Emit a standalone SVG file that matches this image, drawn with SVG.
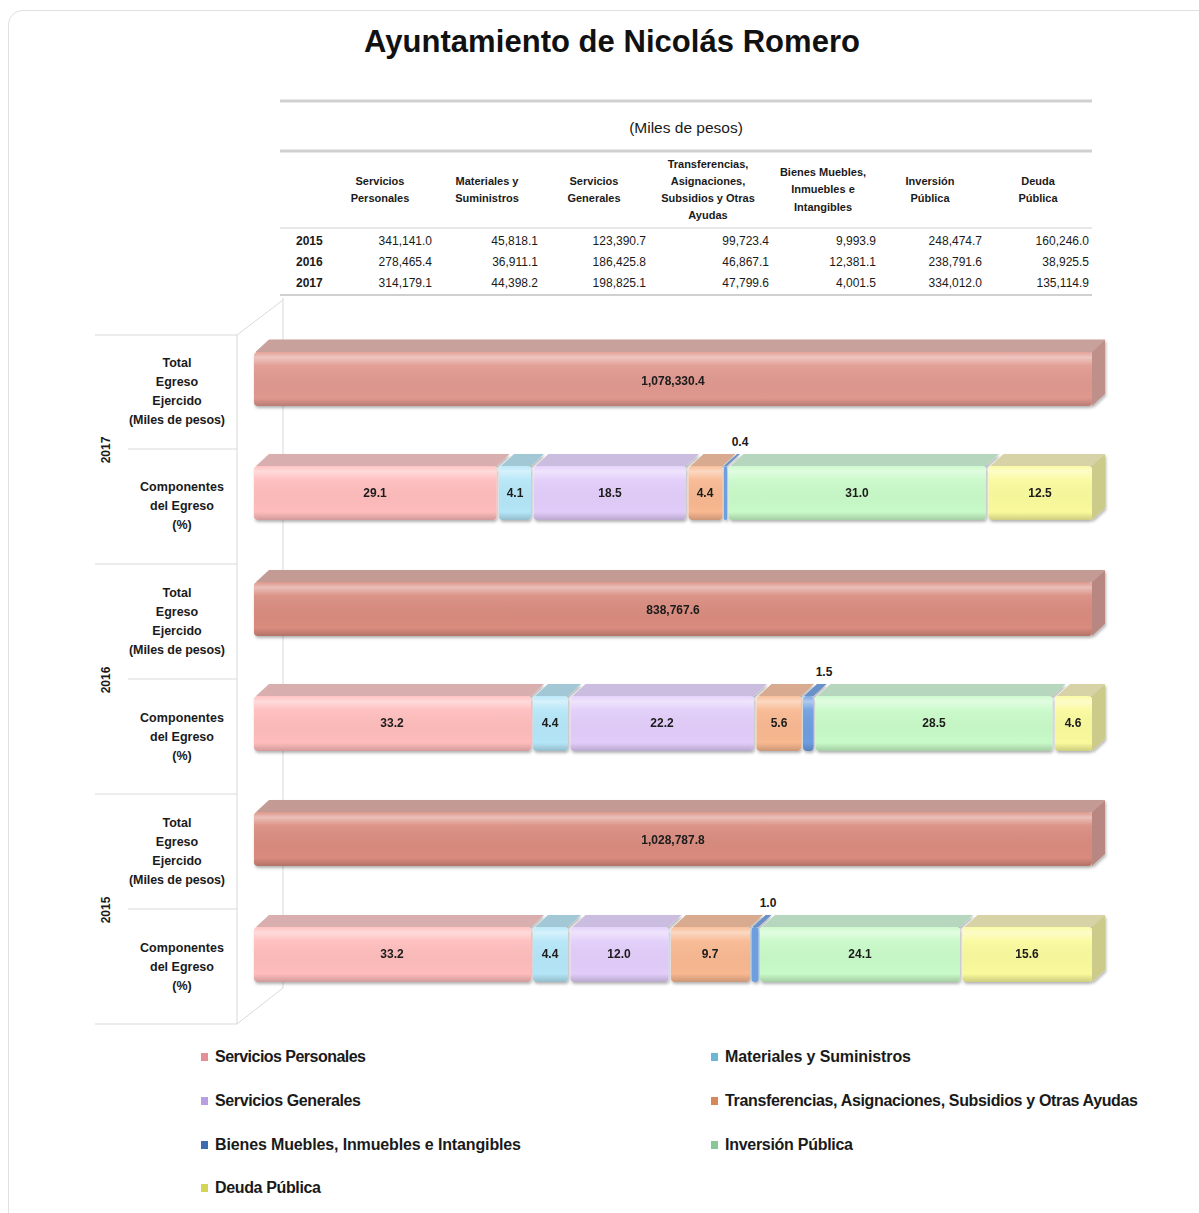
<svg xmlns="http://www.w3.org/2000/svg" width="1199" height="1213" viewBox="0 0 1199 1213">
<defs>
<linearGradient id="shine" x1="0" y1="0" x2="0" y2="1">
<stop offset="0" stop-color="#fff" stop-opacity="0.1"/>
<stop offset="0.1" stop-color="#fff" stop-opacity="0.45"/>
<stop offset="0.25" stop-color="#fff" stop-opacity="0.08"/>
<stop offset="0.85" stop-color="#000" stop-opacity="0"/>
<stop offset="1" stop-color="#000" stop-opacity="0.18"/>
</linearGradient>
<filter id="sh" x="-5%" y="-20%" width="110%" height="150%">
<feDropShadow dx="1" dy="2" stdDeviation="1.5" flood-color="#000" flood-opacity="0.3"/>
</filter>
</defs>
<style>
.t{font-family:"Liberation Sans",Arial,sans-serif;fill:#1a1a1a}
.title{font-size:31px;font-weight:bold;fill:#111}
.hd{font-size:11px;font-weight:bold;text-anchor:middle}
.dv{font-size:12px;text-anchor:end}
.yr{font-size:12px;font-weight:bold}
.lbl{font-size:12.5px;font-weight:bold;text-anchor:middle}
.bv{font-size:12px;font-weight:bold;text-anchor:middle}
.lg{font-size:16px;font-weight:bold}
.grid{stroke:#d9d9d9;fill:none}
.tl{stroke:#d0d0d0;fill:none}
.shn{fill:url(#shine)}
</style>
<rect x="8.5" y="10.5" width="1210" height="1220" rx="14" fill="#fff" stroke="#e0e0e0"/>
<text class="t title" x="612" y="52" text-anchor="middle" textLength="496">Ayuntamiento de Nicolás Romero</text>

<g id="table">
<line class="tl" x1="280" y1="101" x2="1092" y2="101" stroke-width="3"/>
<text class="t" x="686" y="133" text-anchor="middle" font-size="15.5">(Miles de pesos)</text>
<line class="tl" x1="280" y1="151" x2="1092" y2="151" stroke-width="3"/>
<g>
<text class="t hd" x="380" y="185">Servicios</text><text class="t hd" x="380" y="202">Personales</text>
<text class="t hd" x="487" y="185">Materiales y</text><text class="t hd" x="487" y="202">Suministros</text>
<text class="t hd" x="594" y="185">Servicios</text><text class="t hd" x="594" y="202">Generales</text>
<text class="t hd" x="708" y="168">Transferencias,</text><text class="t hd" x="708" y="185">Asignaciones,</text><text class="t hd" x="708" y="202">Subsidios y Otras</text><text class="t hd" x="708" y="219">Ayudas</text>
<text class="t hd" x="823" y="176">Bienes Muebles,</text><text class="t hd" x="823" y="193">Inmuebles e</text><text class="t hd" x="823" y="211">Intangibles</text>
<text class="t hd" x="930" y="185">Inversión</text><text class="t hd" x="930" y="202">Pública</text>
<text class="t hd" x="1038" y="185">Deuda</text><text class="t hd" x="1038" y="202">Pública</text>
</g>
<line class="tl" x1="280" y1="228" x2="1092" y2="228" stroke="#ececec"/>
<g>
<text class="t yr" x="296" y="245">2015</text>
<text class="t dv" x="432" y="245">341,141.0</text><text class="t dv" x="538" y="245">45,818.1</text><text class="t dv" x="646" y="245">123,390.7</text><text class="t dv" x="769" y="245">99,723.4</text><text class="t dv" x="876" y="245">9,993.9</text><text class="t dv" x="982" y="245">248,474.7</text><text class="t dv" x="1089" y="245">160,246.0</text>
<text class="t yr" x="296" y="266">2016</text>
<text class="t dv" x="432" y="266">278,465.4</text><text class="t dv" x="538" y="266">36,911.1</text><text class="t dv" x="646" y="266">186,425.8</text><text class="t dv" x="769" y="266">46,867.1</text><text class="t dv" x="876" y="266">12,381.1</text><text class="t dv" x="982" y="266">238,791.6</text><text class="t dv" x="1089" y="266">38,925.5</text>
<text class="t yr" x="296" y="287">2017</text>
<text class="t dv" x="432" y="287">314,179.1</text><text class="t dv" x="538" y="287">44,398.2</text><text class="t dv" x="646" y="287">198,825.1</text><text class="t dv" x="769" y="287">47,799.6</text><text class="t dv" x="876" y="287">4,001.5</text><text class="t dv" x="982" y="287">334,012.0</text><text class="t dv" x="1089" y="287">135,114.9</text>
</g>
<line class="tl" x1="280" y1="295" x2="1092" y2="295" stroke-width="2" stroke="#e0e0e0"/>
</g>

<g id="connectors">
<line class="grid" x1="283" y1="298" x2="283" y2="988"/>
<line class="grid" x1="237" y1="335" x2="283" y2="300"/>
<line class="grid" x1="237" y1="1024" x2="283" y2="988"/>
<line class="grid" x1="237" y1="335" x2="237" y2="1024"/>
<line class="grid" x1="95" y1="335" x2="237" y2="335"/>
<line class="grid" x1="128" y1="449" x2="237" y2="449"/>
<line class="grid" x1="95" y1="564" x2="237" y2="564"/>
<line class="grid" x1="128" y1="679" x2="237" y2="679"/>
<line class="grid" x1="95" y1="794" x2="237" y2="794"/>
<line class="grid" x1="128" y1="909" x2="237" y2="909"/>
<line class="grid" x1="95" y1="1024" x2="237" y2="1024"/>
</g>

<g id="axis-labels">
<text class="t yr" transform="translate(110,450) rotate(-90)" text-anchor="middle">2017</text>
<text class="t yr" transform="translate(110,680) rotate(-90)" text-anchor="middle">2016</text>
<text class="t yr" transform="translate(110,910) rotate(-90)" text-anchor="middle">2015</text>
<g>
<text class="t lbl" x="177" y="367">Total</text><text class="t lbl" x="177" y="386">Egreso</text><text class="t lbl" x="177" y="405">Ejercido</text><text class="t lbl" x="177" y="424" textLength="96">(Miles de pesos)</text>
<text class="t lbl" x="182" y="491" textLength="84">Componentes</text><text class="t lbl" x="182" y="510">del Egreso</text><text class="t lbl" x="182" y="529">(%)</text>
</g>
<g>
<text class="t lbl" x="177" y="597">Total</text><text class="t lbl" x="177" y="616">Egreso</text><text class="t lbl" x="177" y="635">Ejercido</text><text class="t lbl" x="177" y="654" textLength="96">(Miles de pesos)</text>
<text class="t lbl" x="182" y="722" textLength="84">Componentes</text><text class="t lbl" x="182" y="741">del Egreso</text><text class="t lbl" x="182" y="760">(%)</text>
</g>
<g>
<text class="t lbl" x="177" y="827">Total</text><text class="t lbl" x="177" y="846">Egreso</text><text class="t lbl" x="177" y="865">Ejercido</text><text class="t lbl" x="177" y="884" textLength="96">(Miles de pesos)</text>
<text class="t lbl" x="182" y="952" textLength="84">Componentes</text><text class="t lbl" x="182" y="971">del Egreso</text><text class="t lbl" x="182" y="990">(%)</text>
</g>
</g>

<!-- 2017 total -->
<g id="total-2017" filter="url(#sh)">
<polygon points="256,352 269,340 1105,340 1092,352" fill="#c9a19c" stroke="#c9a19c" stroke-linejoin="round"/>
<polygon points="1092,352 1105,340 1105,394 1092,406" fill="#bf8f8a"/>
<rect x="254" y="352" width="838" height="54" rx="4" fill="#e0988e"/>
<rect x="254" y="352" width="838" height="54" rx="4" class="shn"/>
<text class="t bv" x="673" y="385">1,078,330.4</text>
</g>

<g id="comp-2017" filter="url(#sh)">
<g id="c17-sp"><polygon points="256,466 269,454 509.5,454 496.5,466" fill="#d8aeae"/><rect x="254" y="466" width="242.5" height="54" rx="4" fill="#ffbcbc"/><rect x="254" y="466" width="242.5" height="54" rx="4" class="shn"/><text class="t bv" x="375" y="497">29.1</text></g>
<g id="c17-ms"><polygon points="501,466 514,454 544,454 531,466" fill="#a2c8d6"/><rect x="499" y="466" width="32" height="54" rx="4" fill="#b4e6f8"/><rect x="499" y="466" width="32" height="54" rx="4" class="shn"/><text class="t bv" x="515" y="497">4.1</text></g>
<g id="c17-sg"><polygon points="535.5,466 548.5,454 699,454 686,466" fill="#cbbddf"/><rect x="533.5" y="466" width="152.5" height="54" rx="4" fill="#e2cdfa"/><rect x="533.5" y="466" width="152.5" height="54" rx="4" class="shn"/><text class="t bv" x="610" y="497">18.5</text></g>
<g id="c17-tr"><polygon points="690.5,466 703.5,454 735.5,454 722.5,466" fill="#d8ab90"/><rect x="688.5" y="466" width="34" height="54" rx="4" fill="#f8b890"/><rect x="688.5" y="466" width="34" height="54" rx="4" class="shn"/><text class="t bv" x="705" y="497">4.4</text></g>
<g id="c17-bm"><polygon points="724,466 737,454 740,454 727,466" fill="#6a90c8"/><rect x="724" y="466" width="3" height="54" rx="1.5" fill="#6d9ee0"/></g>
<g id="c17-ip"><polygon points="730.5,466 743.5,454 999,454 986,466" fill="#b6d6be"/><rect x="728.5" y="466" width="257.5" height="54" rx="4" fill="#c8fac8"/><rect x="728.5" y="466" width="257.5" height="54" rx="4" class="shn"/><text class="t bv" x="857" y="497">31.0</text></g>
<g id="c17-dp"><polygon points="990.5,466 1003.5,454 1105,454 1092,466" fill="#d8d3a6"/><polygon points="1092,466 1105,454 1105,508 1092,520" fill="#cdcb8a"/><rect x="988.5" y="466" width="103.5" height="54" rx="4" fill="#fafa9c"/><rect x="988.5" y="466" width="103.5" height="54" rx="4" class="shn"/><text class="t bv" x="1040" y="497">12.5</text></g>
</g>
<text class="t bv" x="740" y="446">0.4</text>

<!-- 2016 total -->
<g id="total-2016" filter="url(#sh)">
<polygon points="256,582 269,570 1105,570 1092,582" fill="#c39a94"/>
<polygon points="1092,582 1105,570 1105,624 1092,636" fill="#b88781"/>
<rect x="254" y="582" width="838" height="54" rx="4" fill="#d98b7e"/>
<rect x="254" y="582" width="838" height="54" rx="4" class="shn"/>
<text class="t bv" x="673" y="614">838,767.6</text>
</g>

<g id="comp-2016" filter="url(#sh)">
<g id="c16-sp"><polygon points="256,696 269,684 544,684 531,696" fill="#d8aeae"/><rect x="254" y="696" width="277" height="55" rx="4" fill="#ffbcbc"/><rect x="254" y="696" width="277" height="55" rx="4" class="shn"/><text class="t bv" x="392" y="727">33.2</text></g>
<g id="c16-ms"><polygon points="535,696 548,684 581,684 568,696" fill="#a2c8d6"/><rect x="533" y="696" width="35" height="55" rx="4" fill="#b4e6f8"/><rect x="533" y="696" width="35" height="55" rx="4" class="shn"/><text class="t bv" x="550" y="727">4.4</text></g>
<g id="c16-sg"><polygon points="572.5,696 585.5,684 767,684 754,696" fill="#cbbddf"/><rect x="570.5" y="696" width="183.5" height="55" rx="4" fill="#e2cdfa"/><rect x="570.5" y="696" width="183.5" height="55" rx="4" class="shn"/><text class="t bv" x="662" y="727">22.2</text></g>
<g id="c16-tr"><polygon points="758.5,696 771.5,684 814,684 801,696" fill="#d8ab90"/><rect x="756.5" y="696" width="44.5" height="55" rx="4" fill="#f8b890"/><rect x="756.5" y="696" width="44.5" height="55" rx="4" class="shn"/><text class="t bv" x="779" y="727">5.6</text></g>
<g id="c16-bm"><polygon points="804,696 817,684 826.6,684 813.6,696" fill="#6a90c8"/><rect x="803" y="696" width="10.6" height="55" rx="4" fill="#6d9ee0"/><rect x="803" y="696" width="10.6" height="55" rx="4" class="shn"/></g>
<g id="c16-ip"><polygon points="817.5,696 830.5,684 1065.5,684 1052.5,696" fill="#b6d6be"/><rect x="815.5" y="696" width="237" height="55" rx="4" fill="#c8fac8"/><rect x="815.5" y="696" width="237" height="55" rx="4" class="shn"/><text class="t bv" x="934" y="727">28.5</text></g>
<g id="c16-dp"><polygon points="1057,696 1070,684 1105,684 1092,696" fill="#d8d3a6"/><polygon points="1092,696 1105,684 1105,739 1092,751" fill="#cdcb8a"/><rect x="1055" y="696" width="37" height="55" rx="4" fill="#fafa9c"/><rect x="1055" y="696" width="37" height="55" rx="4" class="shn"/><text class="t bv" x="1073" y="727">4.6</text></g>
</g>
<text class="t bv" x="824" y="676">1.5</text>

<!-- 2015 total -->
<g id="total-2015" filter="url(#sh)">
<polygon points="256,812 269,800 1105,800 1092,812" fill="#c39a94"/>
<polygon points="1092,812 1105,800 1105,854 1092,866" fill="#b88781"/>
<rect x="254" y="812" width="838" height="54" rx="4" fill="#d98b7e"/>
<rect x="254" y="812" width="838" height="54" rx="4" class="shn"/>
<text class="t bv" x="673" y="844">1,028,787.8</text>
</g>

<g id="comp-2015" filter="url(#sh)">
<g id="c15-sp"><polygon points="256,927 269,915 544,915 531,927" fill="#d8aeae"/><rect x="254" y="927" width="277" height="55" rx="4" fill="#ffbcbc"/><rect x="254" y="927" width="277" height="55" rx="4" class="shn"/><text class="t bv" x="392" y="958">33.2</text></g>
<g id="c15-ms"><polygon points="535,927 548,915 581,915 568,927" fill="#a2c8d6"/><rect x="533" y="927" width="35" height="55" rx="4" fill="#b4e6f8"/><rect x="533" y="927" width="35" height="55" rx="4" class="shn"/><text class="t bv" x="550" y="958">4.4</text></g>
<g id="c15-sg"><polygon points="572.5,927 585.5,915 681.5,915 668.5,927" fill="#cbbddf"/><rect x="570.5" y="927" width="98" height="55" rx="4" fill="#e2cdfa"/><rect x="570.5" y="927" width="98" height="55" rx="4" class="shn"/><text class="t bv" x="619" y="958">12.0</text></g>
<g id="c15-tr"><polygon points="673,927 686,915 763,915 750,927" fill="#d8ab90"/><rect x="671" y="927" width="79" height="55" rx="4" fill="#f8b890"/><rect x="671" y="927" width="79" height="55" rx="4" class="shn"/><text class="t bv" x="710" y="958">9.7</text></g>
<g id="c15-bm"><polygon points="752.5,927 765.5,915 771.5,915 758.5,927" fill="#6a90c8"/><rect x="751.5" y="927" width="7" height="55" rx="3" fill="#6d9ee0"/></g>
<g id="c15-ip"><polygon points="762,927 775,915 973,915 960,927" fill="#b6d6be"/><rect x="760" y="927" width="200" height="55" rx="4" fill="#c8fac8"/><rect x="760" y="927" width="200" height="55" rx="4" class="shn"/><text class="t bv" x="860" y="958">24.1</text></g>
<g id="c15-dp"><polygon points="964.5,927 977.5,915 1105,915 1092,927" fill="#d8d3a6"/><polygon points="1092,927 1105,915 1105,970 1092,982" fill="#cdcb8a"/><rect x="962.5" y="927" width="129.5" height="55" rx="4" fill="#fafa9c"/><rect x="962.5" y="927" width="129.5" height="55" rx="4" class="shn"/><text class="t bv" x="1027" y="958">15.6</text></g>
</g>
<text class="t bv" x="768" y="907">1.0</text>

<g id="legend">
<g id="lg-sp"><rect x="201" y="1053" width="7" height="8" fill="#e48e9a"/><text class="t lg" x="215" y="1062" textLength="151">Servicios Personales</text></g>
<g id="lg-ms"><rect x="711" y="1053" width="7" height="8" fill="#6cb6d6"/><text class="t lg" x="725" y="1062" textLength="186">Materiales y Suministros</text></g>
<g id="lg-sg"><rect x="201" y="1097" width="7" height="8" fill="#b8a0e0"/><text class="t lg" x="215" y="1106" textLength="146">Servicios Generales</text></g>
<g id="lg-tr"><rect x="711" y="1097" width="7" height="8" fill="#d88858"/><text class="t lg" x="725" y="1106" textLength="413">Transferencias, Asignaciones, Subsidios y Otras Ayudas</text></g>
<g id="lg-bm"><rect x="201" y="1141" width="7" height="8" fill="#3c6cb0"/><text class="t lg" x="215" y="1150" textLength="306">Bienes Muebles, Inmuebles e Intangibles</text></g>
<g id="lg-ip"><rect x="711" y="1141" width="7" height="8" fill="#88c898"/><text class="t lg" x="725" y="1150" textLength="128">Inversión Pública</text></g>
<g id="lg-dp"><rect x="201" y="1184" width="7" height="8" fill="#d4d456"/><text class="t lg" x="215" y="1193" textLength="106">Deuda Pública</text></g>
</g>
</svg>
